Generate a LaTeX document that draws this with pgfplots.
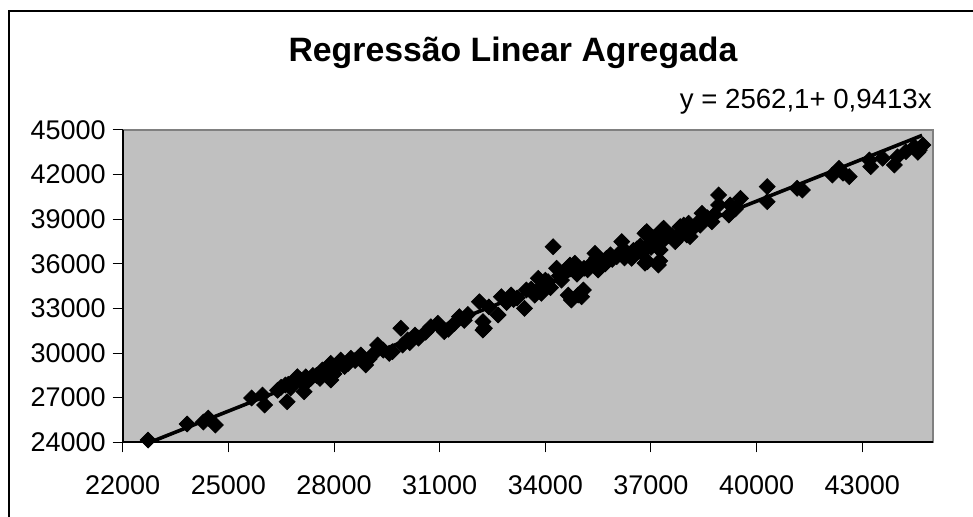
\documentclass[border=0pt]{standalone}
\usepackage{fontspec}
\setmainfont{Liberation Sans}
\usepackage{pgfplots}
\usepackage{pgfplotstable}
\pgfplotsset{compat=1.18}
\definecolor{plotgray}{HTML}{C0C0C0}
\definecolor{framegray}{HTML}{808080}

% pontos
\pgfplotstableread{
x y
22720 24150
23830 25230
24290 25360
24430 25630
24630 25160
25660 26980
25970 27180
26030 26510
26400 27500
26500 27700
26620 27850
26670 26730
26700 27900
26770 27660
26850 28000
26900 28100
26960 28410
27050 28200
27100 28000
27150 27400
27200 28400
27250 28100
27340 28300
27400 28500
27500 28500
27600 28300
27670 28860
27700 28600
27800 28700
27850 28900
27910 29310
27910 28190
28000 28600
28050 29000
28100 29200
28190 29530
28250 29300
28300 29100
28400 29300
28480 29650
28600 29500
28700 29700
28760 29870
28900 29200
29000 29600
29100 29900
29240 30540
29400 30200
29570 29980
29660 30090
29900 31670
29950 30540
30090 30880
30150 30700
30300 31200
30400 31000
30600 31400
30750 31770
30950 32000
31000 31800
31130 31440
31250 31600
31420 32000
31560 32450
31700 32200
31800 32600
32130 33450
32230 32110
32230 31550
32270 31670
32400 33100
32660 32560
32750 33790
32900 33400
33030 33900
33100 33600
33200 33700
33410 33010
33460 34240
33600 34300
33700 33900
33800 35030
33890 34020
33940 34580
34000 34900
34080 34800
34150 34400
34220 37150
34320 35700
34400 35200
34460 34910
34550 35500
34650 33900
34700 35920
34740 33570
34840 36040
34900 35300
34930 33900
35030 33790
35080 34240
35100 35700
35200 35600
35300 35900
35350 36100
35410 36710
35460 36400
35500 35590
35600 36100
35700 36000
35740 36370
35850 36600
35900 36300
36030 36480
36100 36700
36170 37490
36250 36400
36300 36800
36450 36370
36500 36900
36600 37000
36700 37200
36740 36710
36830 36040
36830 38050
36900 36150
36880 38160
36950 37300
37000 37100
37020 37490
37100 37800
37150 37500
37210 35920
37250 36200
37260 36930
37310 38270
37360 38390
37400 37700
37500 37900
37600 37900
37690 37490
37750 37700
37830 38500
37850 38100
37930 38610
38020 37940
38070 38730
38110 37830
38200 38400
38300 38700
38400 38600
38450 39400
38600 39100
38730 38830
38800 39300
38920 40630
38920 39960
39210 39280
39250 39960
39400 39700
39540 40400
40300 41190
40300 40180
41150 41080
41300 40960
42150 41970
42340 42420
42450 42100
42630 41860
43200 42980
43240 42530
43580 43100
43910 42650
44000 43200
44240 43540
44480 43880
44580 43500
44620 43650
44720 43990
}\dados

\begin{document}
\begin{tikzpicture}
\begin{axis}[
  at={(61.35pt,37.35pt)}, anchor=south west,
  scale only axis, width=405pt, height=156.15pt,
  xmin=22000, xmax=45000, ymin=24000, ymax=45000,
  xtick={22000,25000,...,43000},
  ytick={24000,27000,...,45000},
  scaled ticks=false,
  axis lines*=left,
  axis line style={black, line width=0.8pt},
  axis background/.style={fill=plotgray, draw=framegray, line width=0.8pt},
  tick align=outside, major tick length=5pt,
  tick style={black, line width=0.5pt},
  tick label style={font=\fontsize{13.5}{16}\selectfont},
  xticklabel style={yshift=-8pt},
  /pgf/number format/assume math mode=true,
  /pgf/number format/1000 sep={},
  clip mode=individual,
]
\addplot[only marks, mark=square*, mark size=2.8pt,
  mark options={rotate=45, fill=black, draw=black}] table {\dados};
\addplot[black, line width=1.8pt, no marks] coordinates {(22640,23873) (44700,44638)};
\end{axis}
\node[anchor=base, font=\bfseries\fontsize{16.9}{20}\selectfont] at (256.5pt,227.65pt) {Regressão Linear Agregada};
\node[anchor=base east, inner sep=0pt, font=\fontsize{13.8}{16}\selectfont] at (466pt,204pt) {y = 2562,1+ 0,9413x};
\draw[line width=0.8pt] (4.5pt,-5pt) -- (4.5pt,253pt) -- (495pt,253pt);
\pgfresetboundingbox
\useasboundingbox (0,0) rectangle (486.5pt,258.5pt);
\end{tikzpicture}
\end{document}
